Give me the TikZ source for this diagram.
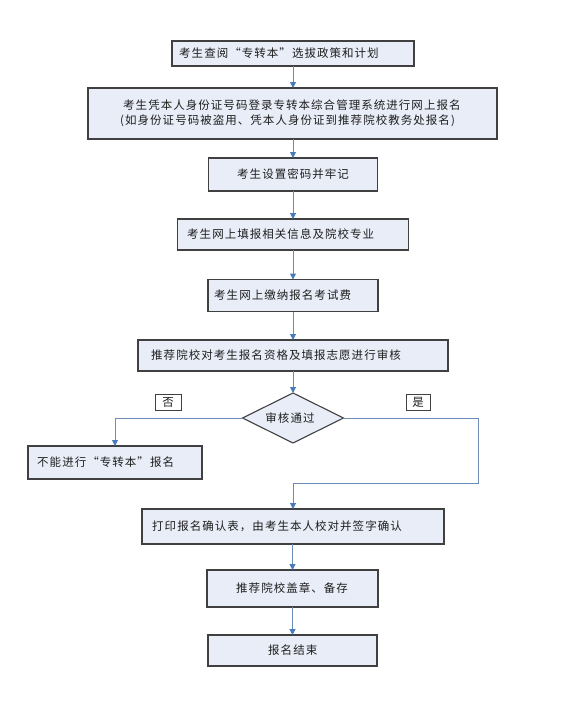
\documentclass[tikz,border=0pt]{standalone}
\usepackage{fontspec}
\newfontfamily\cjk[LetterSpace=9]{Noto Sans CJK SC}
\usetikzlibrary{arrows.meta,shapes.geometric}
\definecolor{boxfill}{RGB}{233,237,248}
\definecolor{boxline}{RGB}{64,64,64}
\definecolor{conn}{RGB}{108,142,182}
\definecolor{tip}{RGB}{74,122,187}
\definecolor{txtc}{RGB}{30,30,30}
\tikzset{
  box/.style={draw=boxline, fill=boxfill, line width=1.1pt, rectangle, inner sep=0pt, outer sep=0pt},
  dia/.style={draw=boxline, fill=boxfill, line width=1.1pt, diamond, inner sep=0pt, outer sep=0pt},
  lab/.style={draw=boxline, fill=white, line width=0.9pt, rectangle, inner sep=0pt, outer sep=0pt},
  txt/.style={anchor=west, inner sep=0pt, text=txtc, font=\cjk\fontsize{11.5pt}{16pt}\selectfont},
  ctxt/.style={inner sep=0pt, text=txtc, font=\cjk\fontsize{11.5pt}{16pt}\selectfont},
  arr/.style={draw=conn, line width=1pt, -{Triangle[width=6pt,length=6pt,color=tip]}},
}
\begin{document}
\begin{tikzpicture}[x=1pt,y=-1pt]
\useasboundingbox (0,0) rectangle (564,704);
% boxes
\node[box, minimum width=242pt, minimum height=25pt] (b1) at (293,53.5) {};
\node[txt] (t1) at (179,53.5) {考生查阅“专转本”选拔政策和计划};
\node[box, minimum width=409pt, minimum height=51pt] (b2) at (292.5,113.5) {};
\node[txt] (t2a) at (123,105) {考生凭本人身份证号码登录专转本综合管理系统进行网上报名};
\node[txt] (t2b) at (120,121) {(如身份证号码被盗用、凭本人身份证到推荐院校教务处报名)};
\node[box, minimum width=169pt, minimum height=33pt] (b3) at (293,174.5) {};
\node[txt] (t3) at (237,174) {考生设置密码并牢记};
\node[box, minimum width=231pt, minimum height=31pt] (b4) at (293,234.5) {};
\node[txt] (t4) at (187,234) {考生网上填报相关信息及院校专业};
\node[box, minimum width=170pt, minimum height=32pt] (b5) at (293,295.5) {};
\node[txt] (t5) at (214,295) {考生网上缴纳报名考试费};
\node[box, minimum width=310pt, minimum height=31pt] (b6) at (293,355.5) {};
\node[txt] (t6) at (151,355) {推荐院校对考生报名资格及填报志愿进行审核};
\node[dia, minimum width=101pt, minimum height=50pt] (d) at (293,418) {};
\node[ctxt] (td) at (290,418) {审核通过};
\node[lab, minimum width=26pt, minimum height=16pt] (no) at (168,402) {};
\node[ctxt] (tno) at (168,402) {否};
\node[lab, minimum width=24pt, minimum height=16pt] (yes) at (418,402) {};
\node[ctxt] (tyes) at (418,402) {是};
\node[box, minimum width=174pt, minimum height=33pt] (bl) at (115,462.5) {};
\node[txt] (tl) at (37,462) {不能进行“专转本”报名};
\node[box, minimum width=302pt, minimum height=35pt] (b7) at (293,526.5) {};
\node[txt] (t7) at (152,526) {打印报名确认表，由考生本人校对并签字确认};
\node[box, minimum width=171pt, minimum height=37pt] (b8) at (292.5,588.5) {};
\node[txt] (t8) at (236,588) {推荐院校盖章、备存};
\node[box, minimum width=169pt, minimum height=31pt] (b9) at (292.5,650.5) {};
\node[txt] (t9) at (268,650) {报名结束};
% connectors
\coordinate (r1) at (478,483);
\coordinate (r2) at (293,483);
\draw[arr] (b1.south) -- (b1.south |- b2.north);
\draw[arr] (b2.south -| b3.north) -- (b3.north);
\draw[arr] (b3.south) -- (b4.north);
\draw[arr] (b4.south) -- (b5.north);
\draw[arr] (b5.south) -- (b6.north);
\draw[arr] (b6.south) -- (d.north);
\draw[arr] (d.west) -| (bl.north);
\draw[arr] (d.east) -| (r1) -- (r2) -- (b7.north);
\draw[arr] (b7.south -| b8.north) -- (b8.north);
\draw[arr] (b8.south) -- (b9.north);
\end{tikzpicture}
\end{document}
